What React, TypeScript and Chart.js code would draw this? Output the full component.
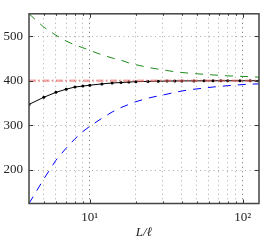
import React, { useEffect, useRef } from "react";
import { Chart, registerables } from "chart.js";

Chart.register(...registerables);

const L = [4, 5, 6, 7, 8, 9, 10, 12, 14, 16, 18, 20, 24, 28, 32, 36, 40, 48, 56, 64, 72, 80, 96, 112, 128];
const blackY = [347, 363, 374, 381, 386, 388, 390, 393, 395, 396, 397, 398, 398.5, 399, 399.3, 399.5, 399.6, 399.7, 399.8, 399.9, 400, 400, 400, 400, 400];
const greenY = [550, 520, 502, 489, 480, 474, 468, 458, 451, 446, 440, 436, 430, 426, 423, 420, 418.5, 416, 414.5, 413, 412, 411, 410, 409, 408];
const blueY = [125, 180, 222, 249, 270, 286, 298, 316, 330, 340, 347, 353, 361, 366, 370, 374, 377, 381, 383.5, 386, 387.5, 389, 391, 392.5, 393];
const refL = [4, 128];
const refY = [400, 400];

const xGridTicks = [5, 6, 7, 8, 9, 10, 20, 30, 40, 50, 60, 70, 80, 90, 100];
const xLabels: Record<number, string> = { 10: "10\u00b9", 100: "10\u00b2" };
const yTicks = [200, 300, 400, 500];
const xTitle = "L/\u2113";

const FONT = "'Liberation Serif', 'DejaVu Serif', serif";

const frame = {
  id: "frame",
  afterDraw(chart: any) {
    const { ctx, chartArea: a, scales } = chart;
    ctx.save();
    ctx.strokeStyle = "#333";
    ctx.lineWidth = 1;
    const xs = scales.x;
    const ys = scales.y;
    xGridTicks.forEach((v) => {
      const px = Math.round(xs.getPixelForValue(v)) + 0.5;
      const len = v === 10 || v === 100 ? 4 : 2;
      ctx.beginPath();
      ctx.moveTo(px, a.bottom);
      ctx.lineTo(px, a.bottom - len);
      ctx.moveTo(px, a.top);
      ctx.lineTo(px, a.top + len);
      ctx.stroke();
    });
    yTicks.forEach((v) => {
      const py = Math.round(ys.getPixelForValue(v)) + 0.5;
      ctx.beginPath();
      ctx.moveTo(a.left, py);
      ctx.lineTo(a.left + 4, py);
      ctx.moveTo(a.right, py);
      ctx.lineTo(a.right - 4, py);
      ctx.stroke();
    });
    ctx.lineWidth = 1.5;
    ctx.strokeStyle = "#444";
    ctx.strokeRect(a.left, a.top, a.right - a.left, a.bottom - a.top);
    ctx.restore();
  },
};

export default function App() {
  const ref = useRef<HTMLCanvasElement>(null);
  useEffect(() => {
    const chart = new Chart(ref.current as HTMLCanvasElement, {
      type: "line",
      data: {
        datasets: [
          {
            data: refL.map((x, i) => ({ x, y: refY[i] })),
            borderColor: "rgba(240,100,100,0.55)",
            borderWidth: 2.5,
            borderDash: [7, 2.5, 1.5, 2.5],
            pointRadius: 0,
            order: 0,
          },
          {
            data: L.map((x, i) => ({ x, y: blackY[i] })),
            borderColor: "#000",
            backgroundColor: "#000",
            borderWidth: 1,
            pointRadius: 1.5,
            pointBorderWidth: 0,
            order: 1,
          },
          {
            data: L.map((x, i) => ({ x, y: greenY[i] })),
            borderColor: "rgb(30,140,30)",
            borderWidth: 1,
            borderDash: [8, 7],
            pointRadius: 0,
            order: 2,
          },
          {
            data: L.map((x, i) => ({ x, y: blueY[i] })),
            borderColor: "rgb(0,0,255)",
            borderWidth: 1,
            borderDash: [8, 7],
            pointRadius: 0,
            order: 3,
          },
        ],
      },
      options: {
        animation: false,
        responsive: true,
        maintainAspectRatio: false,
        layout: { padding: { top: 7, right: 5, left: 0, bottom: 0 } },
        plugins: { legend: { display: false }, tooltip: { enabled: false } },
        elements: { line: { tension: 0 } },
        scales: {
          x: {
            type: "logarithmic",
            min: 4,
            max: 128,
            afterBuildTicks: (s: any) => {
              s.ticks = xGridTicks.map((v) => ({ value: v }));
            },
            afterFit: (s: any) => {
              s.height = 46.5;
            },
            border: { display: false, dash: [1, 3.5] },
            grid: {
              drawTicks: false,
              color: (c: any) => (c.tick && (c.tick.value === 10 || c.tick.value === 100) ? "#666" : "#aaa"),
              lineWidth: 1,
            },
            ticks: {
              autoSkip: false,
              maxRotation: 0,
              padding: 6,
              color: "#222",
              font: { family: FONT, size: 13 },
              callback: (v: any) => xLabels[Number(v)] || "",
            },
            title: {
              display: true,
              text: xTitle,
              color: "#222",
              font: { family: FONT, size: 13, style: "italic" },
              padding: { top: 0, bottom: 10 },
            },
          },
          y: {
            type: "linear",
            min: 125,
            max: 550,
            afterBuildTicks: (s: any) => {
              s.ticks = yTicks.map((v) => ({ value: v }));
            },
            afterFit: (s: any) => {
              s.width = 29;
            },
            border: { display: false, dash: [1, 3.5] },
            grid: {
              drawTicks: false,
              color: "#aaa",
              lineWidth: 1,
            },
            ticks: {
              padding: 6,
              color: "#222",
              font: { family: FONT, size: 13 },
              callback: (v: any) => String(v),
            },
          },
        },
      },
      plugins: [frame],
    } as any);
    return () => chart.destroy();
  }, []);
  return (
    <div style={{ position: "fixed", left: 0, top: 0, width: 264, height: 250, background: "#fff" }}>
      <canvas ref={ref} />
    </div>
  );
}
